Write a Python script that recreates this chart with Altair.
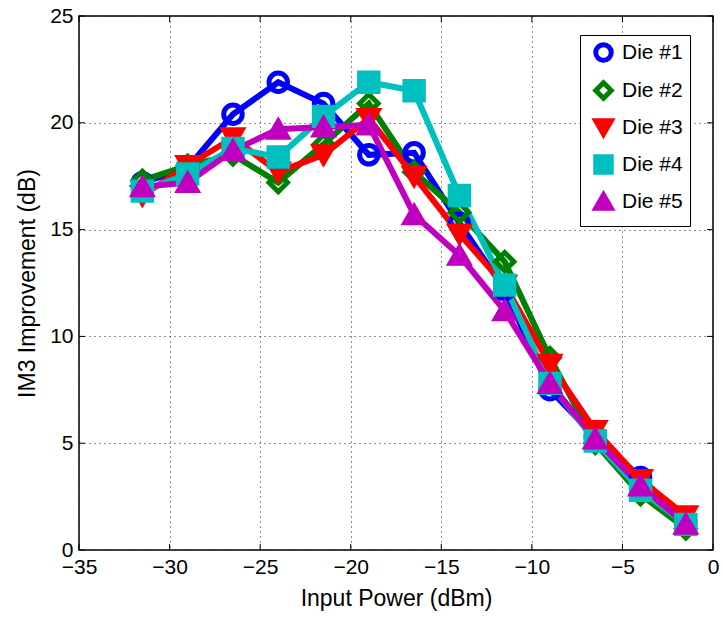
import altair as alt
import pandas as pd

x_vals = [-31.5, -29, -26.5, -24, -21.5, -19, -16.5, -14, -11.5, -9, -6.5, -4, -1.5]
die1 = [17.2, 17.9, 20.4, 21.9, 20.9, 18.5, 18.6, 15.3, 12.2, 7.5, 5.3, 3.4, 1.3]
die2 = [17.3, 18.0, 18.5, 17.2, 19.0, 20.9, 17.7, 15.8, 13.5, 9.0, 5.0, 2.6, 1.0]
die3 = [16.6, 18.0, 19.3, 17.7, 18.5, 20.2, 17.5, 14.8, 12.4, 8.7, 5.6, 3.3, 1.6]
die4 = [16.8, 17.6, 18.8, 18.4, 20.3, 21.9, 21.5, 16.6, 12.4, 7.8, 5.1, 2.8, 1.2]
die5 = [17.0, 17.2, 18.7, 19.7, 19.8, 19.9, 15.7, 13.8, 11.2, 7.8, 5.2, 3.0, 1.2]

names = ["Die #1", "Die #2", "Die #3", "Die #4", "Die #5"]
colors = ["#0000FF", "#008000", "#FF0000", "#00BFBF", "#BF00BF"]
fills = ["transparent", "transparent", "#FF0000", "#00BFBF", "#BF00BF"]
shapes = ["circle", "diamond", "triangle-down", "square", "triangle-up"]

x_ticks = [-35, -30, -25, -20, -15, -10, -5, 0]
y_ticks = [0, 5, 10, 15, 20, 25]

rows = []
for name, ys in zip(names, [die1, die2, die3, die4, die5]):
    for xv, yv in zip(x_vals, ys):
        rows.append({"x": xv, "y": yv, "die": name})
df = pd.DataFrame(rows)

W, H = 634, 534
FONT = "Liberation Sans"

xscale = alt.Scale(domain=[-35, 0], nice=False, zero=False)
yscale = alt.Scale(domain=[0, 25], nice=False, zero=False)

common = dict(grid=True, gridDash=[1, 4], gridColor="#222222", gridWidth=1,
              tickSize=0, labelFontSize=21, titleFontSize=23,
              titleFontWeight="normal", labelFont=FONT, titleFont=FONT,
              labelColor="black", titleColor="black", domain=False,
              labelFlush=False)
xaxis = alt.Axis(values=x_ticks, title="Input Power (dBm)", labelPadding=6,
                 titlePadding=10, **common)
yaxis = alt.Axis(values=y_ticks, title="IM3 Improvement (dB)", labelPadding=6,
                 titlePadding=10, **common)

stroke_scale = alt.Scale(domain=names, range=colors)
fill_scale = alt.Scale(domain=names, range=fills)
shape_scale = alt.Scale(domain=names, range=shapes)

legend = alt.Legend(title=None, orient="none", legendX=501, legendY=19)

lines = alt.Chart(df).mark_line(strokeWidth=6).encode(
    x=alt.X("x:Q", scale=xscale, axis=xaxis),
    y=alt.Y("y:Q", scale=yscale, axis=yaxis),
    stroke=alt.Stroke("die:N", scale=stroke_scale, legend=legend),
    order=alt.Order("x:Q"),
)

points = alt.Chart(df).mark_point(size=340, strokeWidth=5, opacity=1).encode(
    x=alt.X("x:Q", scale=xscale),
    y=alt.Y("y:Q", scale=yscale),
    stroke=alt.Stroke("die:N", scale=stroke_scale, legend=legend),
    fill=alt.Fill("die:N", scale=fill_scale, legend=legend),
    shape=alt.Shape("die:N", scale=shape_scale, legend=legend),
)

xt = pd.DataFrame({"t": x_ticks})
yt = pd.DataFrame({"t": y_ticks})
tick_style = dict(color="black", strokeWidth=1)
xb = alt.Chart(xt).mark_rule(**tick_style).encode(
    x=alt.X("t:Q", scale=xscale), y=alt.value(H), y2=alt.value(H - 6))
xtop = alt.Chart(xt).mark_rule(**tick_style).encode(
    x=alt.X("t:Q", scale=xscale), y=alt.value(0), y2=alt.value(6))
yl = alt.Chart(yt).mark_rule(**tick_style).encode(
    y=alt.Y("t:Q", scale=yscale), x=alt.value(0), x2=alt.value(6))
yr = alt.Chart(yt).mark_rule(**tick_style).encode(
    y=alt.Y("t:Q", scale=yscale), x=alt.value(W), x2=alt.value(W - 6))

chart = alt.layer(xb, xtop, yl, yr, lines, points).properties(
    width=W, height=H,
    autosize=alt.AutoSizeParams(type="none"),
    padding={"left": 79, "top": 16, "right": 10, "bottom": 74},
    background="white",
).configure_view(stroke="black", strokeWidth=1.5).configure_legend(
    labelFontSize=21, labelFont=FONT, labelColor="black",
    labelFontWeight="normal", symbolSize=240, symbolStrokeWidth=5,
    strokeColor="black", fillColor="white", padding=7, rowPadding=1,
    labelOffset=8, symbolOffset=6,
)

chart.save("out.html", embed_options={"renderer": "svg", "actions": False})
